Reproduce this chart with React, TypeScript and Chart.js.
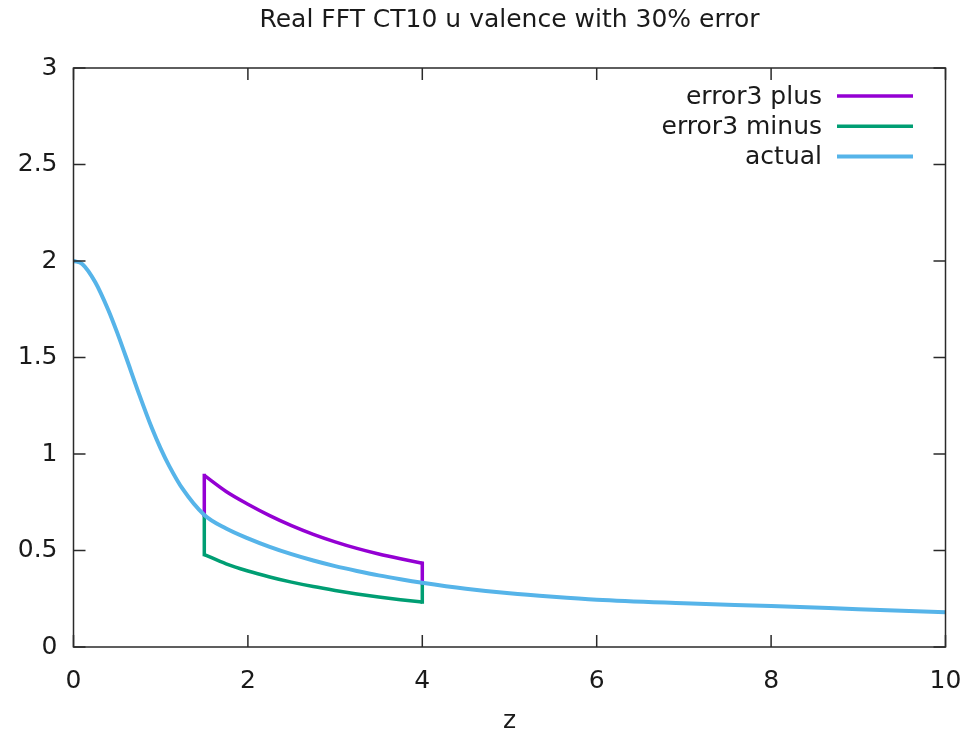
import { useEffect, useRef } from "react";
import { Chart, registerables } from "chart.js";

Chart.register(...registerables);

const titleText = "Real FFT CT10 u valence with 30% error";
const xTitle = "z";
const xTicks = [0, 2, 4, 6, 8, 10];
const yTicks = [0, 0.5, 1, 1.5, 2, 2.5, 3];

// actual u-valence curve
const actualZ = [0, 0.1, 0.25, 0.4, 0.5, 0.6, 0.75, 0.9, 1.0, 1.1, 1.25, 1.5, 1.75, 2.0, 2.25, 2.5, 2.75, 3.0, 3.25, 3.5, 3.75, 4.0, 4.5, 5.0, 5.5, 6.0, 7.0, 8.0, 9.0, 10.0];
const actualV = [2.0, 1.985, 1.89, 1.745, 1.63, 1.505, 1.313, 1.133, 1.028, 0.936, 0.82, 0.684, 0.614, 0.563, 0.519, 0.481, 0.448, 0.419, 0.394, 0.371, 0.351, 0.333, 0.302, 0.278, 0.26, 0.245, 0.227, 0.212, 0.196, 0.18];

// error band between z = 1.5 and z = 4
const bandZ = [1.5, 1.75, 2.0, 2.25, 2.5, 2.75, 3.0, 3.25, 3.5, 3.75, 4.0];
const plusV = [0.889, 0.806, 0.74, 0.681, 0.629, 0.584, 0.545, 0.511, 0.482, 0.457, 0.434];
const minusV = [0.479, 0.431, 0.394, 0.363, 0.336, 0.313, 0.293, 0.275, 0.259, 0.245, 0.233];
// actual value where each band edge starts
const edgeZ = [1.5, 4.0];
const edgeActual = [0.684, 0.333];

const seriesNames = ["error3 plus", "error3 minus", "actual"];
const seriesColors = ["#9400d3", "#009e73", "#56b4e9"];
const seriesWidths = [3.5, 3.5, 4];

const FONT = "'DejaVu Sans', sans-serif";
const FONT_SIZE = 25;
const TEXT_COLOR = "#1a1a1a";

const pts = (xs: number[], ys: number[]) => xs.map((x, i) => ({ x, y: ys[i] }));

const frameAndLegend = {
  id: "frameAndLegend",
  afterDatasetsDraw(chart: any) {
    const { ctx, chartArea: a, scales } = chart;
    const xs = scales.x;
    const ys = scales.y;
    ctx.save();
    ctx.strokeStyle = "#2a2a2a";
    ctx.lineWidth = 1.5;
    ctx.strokeRect(a.left, a.top, a.right - a.left, a.bottom - a.top);
    const tl = 12;
    ctx.beginPath();
    xTicks.forEach((v) => {
      const px = xs.getPixelForValue(v);
      ctx.moveTo(px, a.bottom);
      ctx.lineTo(px, a.bottom - tl);
      ctx.moveTo(px, a.top);
      ctx.lineTo(px, a.top + tl);
    });
    yTicks.forEach((v) => {
      const py = ys.getPixelForValue(v);
      ctx.moveTo(a.left, py);
      ctx.lineTo(a.left + tl, py);
      ctx.moveTo(a.right, py);
      ctx.lineTo(a.right - tl, py);
    });
    ctx.stroke();

    ctx.font = `${FONT_SIZE}px ${FONT}`;
    ctx.fillStyle = TEXT_COLOR;

    // title centred over the plot frame
    ctx.textAlign = "center";
    ctx.textBaseline = "middle";
    ctx.fillText(titleText, (a.left + a.right) / 2, 20);

    // key in the top-right corner: text right-aligned, sample line after it
    ctx.textAlign = "right";
    seriesNames.forEach((name, i) => {
      const y = a.top + 28 + i * 30.3;
      ctx.fillStyle = TEXT_COLOR;
      ctx.fillText(name, a.right - 123.5, y + 1);
      ctx.strokeStyle = seriesColors[i];
      ctx.lineWidth = seriesWidths[i];
      ctx.beginPath();
      ctx.moveTo(a.right - 108.5, y);
      ctx.lineTo(a.right - 32.5, y);
      ctx.stroke();
    });
    ctx.restore();
  },
};

export default function App() {
  const ref = useRef<HTMLCanvasElement | null>(null);

  useEffect(() => {
    if (!ref.current) return;
    const edgeSets: any[] = [];
    edgeZ.forEach((z, k) => {
      const bi = k === 0 ? 0 : bandZ.length - 1;
      edgeSets.push({
        label: seriesNames[0] + " edge",
        data: [{ x: z, y: edgeActual[k] }, { x: z, y: plusV[bi] }],
        borderColor: seriesColors[0],
        borderWidth: seriesWidths[0],
        borderCapStyle: "square",
        pointRadius: 0,
        tension: 0,
        order: 2,
      });
      edgeSets.push({
        label: seriesNames[1] + " edge",
        data: [{ x: z, y: edgeActual[k] }, { x: z, y: minusV[bi] }],
        borderColor: seriesColors[1],
        borderWidth: seriesWidths[1],
        borderCapStyle: "square",
        pointRadius: 0,
        tension: 0,
        order: 2,
      });
    });

    const chart = new Chart(ref.current, {
      type: "line",
      data: {
        datasets: [
          {
            label: seriesNames[2],
            data: pts(actualZ, actualV),
            borderColor: seriesColors[2],
            borderWidth: seriesWidths[2],
            pointRadius: 0,
            cubicInterpolationMode: "monotone",
            order: 0,
          },
          {
            label: seriesNames[0],
            data: pts(bandZ, plusV),
            borderColor: seriesColors[0],
            borderWidth: seriesWidths[0],
            pointRadius: 0,
            cubicInterpolationMode: "monotone",
            order: 1,
          },
          {
            label: seriesNames[1],
            data: pts(bandZ, minusV),
            borderColor: seriesColors[1],
            borderWidth: seriesWidths[1],
            pointRadius: 0,
            cubicInterpolationMode: "monotone",
            order: 1,
          },
          ...edgeSets,
        ],
      },
      options: {
        animation: false,
        responsive: false,
        parsing: false as any,
        layout: { padding: { left: 0, right: 23.5, top: 68, bottom: 0 } },
        plugins: {
          legend: { display: false },
          tooltip: { enabled: false },
          title: { display: false },
        },
        scales: {
          x: {
            type: "linear",
            min: 0,
            max: 10,
            afterBuildTicks: (s: any) => {
              s.ticks = xTicks.map((v) => ({ value: v }));
            },
            afterFit: (s: any) => {
              s.height = 89;
              s.paddingLeft = 0;
              s.paddingRight = 0;
            },
            grid: { display: false, drawTicks: false },
            border: { display: false },
            ticks: {
              color: TEXT_COLOR,
              font: { family: FONT, size: FONT_SIZE },
              padding: 19,
              maxRotation: 0,
              callback: (v: any) => String(v),
            },
            title: {
              display: true,
              text: xTitle,
              color: TEXT_COLOR,
              font: { family: FONT, size: FONT_SIZE },
              padding: { top: 0, bottom: 0 },
            },
          },
          y: {
            type: "linear",
            min: 0,
            max: 3,
            afterBuildTicks: (s: any) => {
              s.ticks = yTicks.map((v) => ({ value: v }));
            },
            afterFit: (s: any) => {
              s.width = 73.5;
              s.paddingTop = 0;
              s.paddingBottom = 0;
            },
            grid: { display: false, drawTicks: false },
            border: { display: false },
            ticks: {
              color: TEXT_COLOR,
              font: { family: FONT, size: FONT_SIZE },
              padding: 16,
              callback: (v: any) => String(v),
            },
          },
        },
      },
      plugins: [frameAndLegend],
    } as any);
    return () => chart.destroy();
  }, []);

  return (
    <div style={{ position: "absolute", left: 0, top: 0, width: 969, height: 736, background: "#fff" }}>
      <canvas ref={ref} width={969} height={736} style={{ display: "block" }} />
    </div>
  );
}
